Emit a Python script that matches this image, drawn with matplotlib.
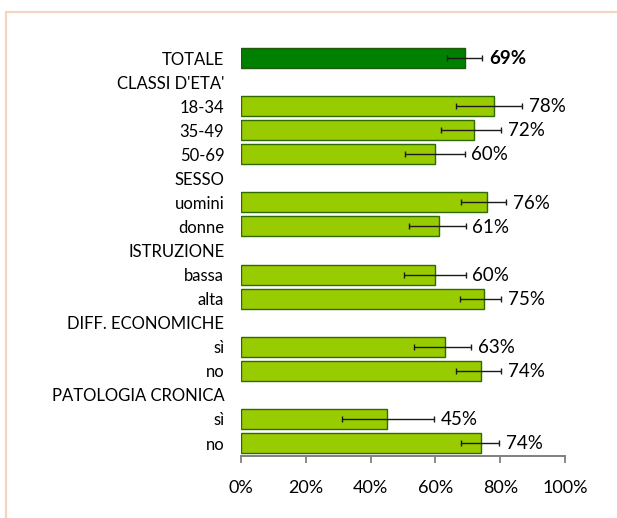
import numpy as np
import matplotlib
matplotlib.use('Agg')
import matplotlib.pyplot as plt
from matplotlib.patches import Rectangle
from matplotlib.ticker import PercentFormatter

plt.rcParams['font.family'] = ['Lato', 'DejaVu Sans']

# rows top to bottom; None = group header (no bar)
labels = ['TOTALE', "CLASSI D'ETA'", '18-34', '35-49', '50-69',
          'SESSO', 'uomini', 'donne',
          'ISTRUZIONE', 'bassa', 'alta',
          'DIFF. ECONOMICHE', 'sì', 'no',
          'PATOLOGIA CRONICA', 'sì', 'no']
values = [69, None, 78, 72, 60,
          None, 76, 61,
          None, 60, 75,
          None, 63, 74,
          None, 45, 74]
err_lo = [63.6, None, 66.5, 61.6, 50.5,
          None, 67.9, 51.9,
          None, 50.4, 67.7,
          None, 53.3, 66.3,
          None, 31.1, 67.9]
err_hi = [74.4, None, 86.6, 80.3, 69.0,
          None, 81.9, 69.3,
          None, 69.3, 80.4,
          None, 71.0, 80.2,
          None, 59.6, 79.7]

fig = plt.figure(figsize=(6.17, 5.18), dpi=100)
ax = fig.add_axes([0.3906, 0.1197, 0.5251, 0.7961])

# peach frame, cut by the right and bottom image edges
fig.patches.append(Rectangle((6 / 617, -0.1), 1.2, 1.1 - 12 / 518,
                             transform=fig.transFigure, fill=False,
                             edgecolor='#F4D3C0', lw=1.6, zorder=0))

ypos = np.arange(len(labels))
for i, (v, lo, hi) in enumerate(zip(values, err_lo, err_hi)):
    if v is None:
        continue
    total = i == 0
    ax.barh(i, v, height=0.83,
            color='#008000' if total else '#99CC00',
            edgecolor='#1E5A0A' if total else '#2F6A00', lw=1.0)
    ax.errorbar(v, i, xerr=[[v - lo], [hi - v]], fmt='none',
                ecolor='#1a1a1a', elinewidth=1.0, capsize=2.4, capthick=1.0)
    ax.annotate(f'{v}%', (hi, i), xytext=(5, -0.5), textcoords='offset points',
                ha='left', va='center', fontsize=13.5,
                fontweight='bold' if total else 'normal')

ax.set_xlim(0, 100)
ax.set_ylim(len(labels) - 1 + 0.54, -0.6)
ax.set_yticks(ypos)
ax.set_yticklabels(labels, fontsize=12)
ax.tick_params(axis='y', length=0, pad=12)
ax.set_xticks(np.arange(0, 101, 20))
ax.xaxis.set_major_formatter(PercentFormatter(decimals=0))
ax.tick_params(axis='x', length=5, width=1.3, color='#808080',
               labelsize=13, pad=12)
for s in ['top', 'right', 'left']:
    ax.spines[s].set_visible(False)
ax.spines['bottom'].set_color('#808080')
ax.spines['bottom'].set_linewidth(1.4)

fig.savefig('out.png', dpi=100)
